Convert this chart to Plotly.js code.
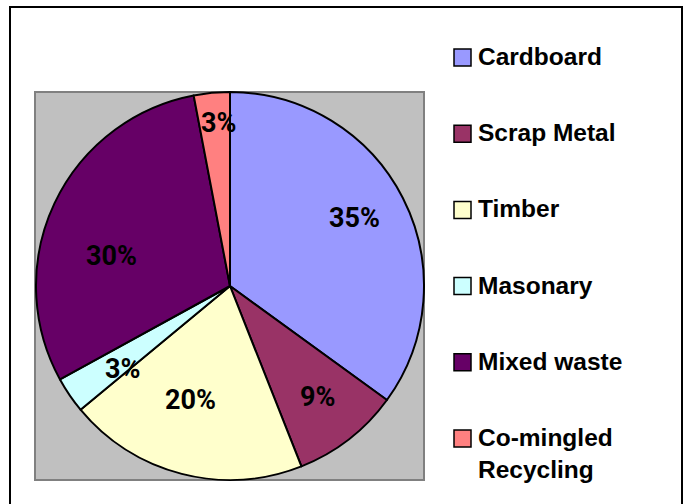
<!DOCTYPE html>
<html>
<head>
<meta charset="utf-8">
<script src="https://cdn.plot.ly/plotly-3.0.1.min.js"></script>
<style>html,body{margin:0;padding:0;background:#fff;}#chart{width:689px;height:504px;}</style>
</head>
<body>
<div id="chart"></div>
<script>
// ---- data ----
var categories = ['Cardboard', 'Scrap Metal', 'Timber', 'Masonary', 'Mixed waste', 'Co-mingled Recycling'];
var shares = [35, 9, 20, 3, 30, 3];
var sliceColors = ['#9999FF', '#993366', '#FFFFCC', '#CCFFFF', '#660066', '#FF8080'];

// ---- label layout (style only) ----
var labelR = [0.73, 0.73, 0.62, 0.70, 0.63, 0.84];
var labelNudgeDeg = [-1.6, -0.3, 4.8, -3.6, -11.2, 1.4];

var W = 689, H = 504;
var cx = 230, cy = 286, R = 194;   // pie centre / radius in px
function px(x) { return x / W; }
function py(y) { return 1 - y / H; }

var total = shares.reduce(function (a, b) { return a + b; }, 0);
var annotations = [];
var shapes = [];

// gray plot area
shapes.push({type: 'rect', xref: 'paper', yref: 'paper', layer: 'below',
  x0: px(35), x1: px(424), y0: py(480), y1: py(92),
  fillcolor: '#C0C0C0', line: {color: '#808080', width: 2}});
// chart border
shapes.push({type: 'rect', xref: 'paper', yref: 'paper', layer: 'below',
  x0: px(10), x1: px(682), y0: -0.05, y1: py(7),
  fillcolor: 'rgba(0,0,0,0)', line: {color: '#000000', width: 2}});

// data labels from slice mid-angles
var cum = 0;
for (var i = 0; i < shares.length; i++) {
  var mid = (cum + shares[i] / 2) / total * 360 + labelNudgeDeg[i];
  cum += shares[i];
  var a = mid * Math.PI / 180;
  var lx = cx + labelR[i] * R * Math.sin(a);
  var ly = cy - labelR[i] * R * Math.cos(a);
  annotations.push({xref: 'paper', yref: 'paper', x: px(lx), y: py(ly),
    xanchor: 'center', yanchor: 'middle', showarrow: false,
    text: Math.round(shares[i] / total * 100) + '%',
    font: {family: 'Roboto, DejaVu Sans Condensed, sans-serif', size: 27, color: '#000', weight: 'bold'}});
}

// legend (manual, to match spacing)
var legTop = 57.5, legStep = 76.2;
for (var j = 0; j < categories.length; j++) {
  var yc = legTop + j * legStep;
  shapes.push({type: 'rect', xref: 'paper', yref: 'paper', layer: 'above',
    x0: px(454), x1: px(471), y0: py(yc + 8.5), y1: py(yc - 8.5),
    fillcolor: sliceColors[j], line: {color: '#000', width: 1.5}});
  annotations.push({xref: 'paper', yref: 'paper', x: px(476), y: py(yc - 16.5),
    xanchor: 'left', yanchor: 'top', align: 'left', showarrow: false,
    text: '<b>' + categories[j].replace('Co-mingled ', 'Co-mingled<br>') + '</b>',
    font: {family: 'Liberation Sans, Arial, sans-serif', size: 24.5, color: '#000'}});
}

var trace = {
  type: 'pie',
  labels: categories,
  values: shares,
  sort: false,
  direction: 'clockwise',
  rotation: 0,
  marker: {colors: sliceColors, line: {color: '#000', width: 2}},
  textinfo: 'none',
  hoverinfo: 'label+percent',
  showlegend: false,
  domain: {x: [px(cx - R), px(cx + R)], y: [py(cy + R), py(cy - R)]}
};

var layout = {
  width: W, height: H,
  margin: {l: 0, r: 0, t: 0, b: 0},
  paper_bgcolor: '#FFFFFF',
  showlegend: false,
  shapes: shapes,
  annotations: annotations
};

Plotly.newPlot('chart', [trace], layout, {displayModeBar: false, staticPlot: true});
</script>
</body>
</html>
